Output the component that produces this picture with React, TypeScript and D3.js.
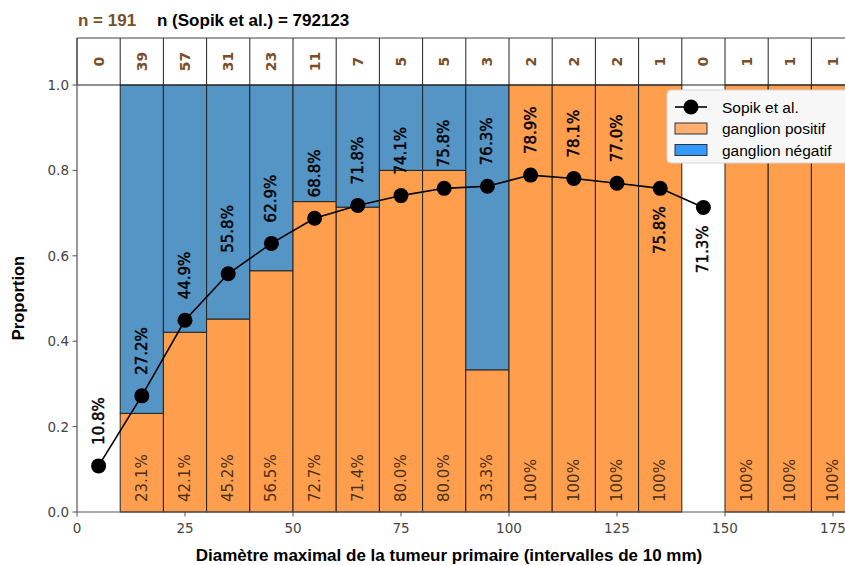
import React from "react";
import * as d3 from "d3";

const binStarts = [0, 10, 20, 30, 40, 50, 60, 70, 80, 90, 100, 110, 120, 130, 140, 150, 160, 170];
const counts = [0, 39, 57, 31, 23, 11, 7, 5, 5, 3, 2, 2, 2, 1, 0, 1, 1, 1];
const positive = [null, 23.1, 42.1, 45.2, 56.5, 72.7, 71.4, 80.0, 80.0, 33.3, 100, 100, 100, 100, null, 100, 100, 100];
const sopik = [10.8, 27.2, 44.9, 55.8, 62.9, 68.8, 71.8, 74.1, 75.8, 76.3, 78.9, 78.1, 77.0, 75.8, 71.3];
const sopikBelow = [false, false, false, false, false, false, false, false, false, false, false, false, false, true, true];
const xTicks = [0, 25, 50, 75, 100, 125, 150, 175];
const yTicks = [0, 0.2, 0.4, 0.6, 0.8, 1.0];

const W = 845;
const H = 565;
const BIN = 10;

const ORANGE = "#FF9F4E";
const BLUE = "#5495C5";
const BROWN = "#7a4e26";
const EDGE = "#222";
const DV = "DejaVu Sans, sans-serif";
const AR = "Liberation Sans, Arial, sans-serif";

export default function App() {
  const x = d3.scaleLinear().domain([0, 180]).range([77, 77 + 180 * 4.32]);
  const y = d3.scaleLinear().domain([0, 1.11]).range([512, 512 - 1.11 * 427]);
  const line = d3
    .line<number>()
    .x((_, i) => x(binStarts[i] + BIN / 2))
    .y((d) => y(d / 100));

  const y0 = y(0);
  const y1 = y(1);
  const yTop = y(1.11);

  return (
    <svg width={W} height={H} style={{ display: "block", position: "absolute", left: 0, top: 0 }}>
      <rect width={W} height={H} fill="#fff" />
      {/* bars */}
      {binStarts.map((b, i) => {
        const p = positive[i];
        if (p === null || counts[i] === 0) return null;
        const x0 = x(b);
        const w = x(b + BIN) - x(b);
        const yp = y(p / 100);
        return (
          <g key={"bar" + i}>
            <rect x={x0} y={yp} width={w} height={y0 - yp} fill={ORANGE} stroke={EDGE} strokeWidth={1} />
            {p < 100 && (
              <rect x={x0} y={y1} width={w} height={yp - y1} fill={BLUE} stroke={EDGE} strokeWidth={1} />
            )}
          </g>
        );
      })}
      {/* bar percent labels */}
      {binStarts.map((b, i) => {
        const p = positive[i];
        if (p === null) return null;
        const cx = x(b + BIN / 2);
        const ly = y0 - 10;
        const txt = p === 100 ? "100%" : p.toFixed(1) + "%";
        return (
          <text
            key={"pl" + i}
            transform={`translate(${cx},${ly}) rotate(-90)`}
            textAnchor="start"
            dominantBaseline="central"
            fontFamily={DV}
            fontSize={15}
            fill="#4b3015"
          >
            {txt}
          </text>
        );
      })}
      {/* header table */}
      <line x1={x(0)} x2={W} y1={yTop} y2={yTop} stroke="#444" strokeWidth={1} />
      <line x1={x(0)} x2={W} y1={y1} y2={y1} stroke={EDGE} strokeWidth={1.2} />
      {binStarts.map((b, i) => (
        <line key={"hv" + i} x1={x(b)} x2={x(b)} y1={yTop} y2={y1} stroke={EDGE} strokeWidth={1} />
      ))}
      {binStarts.map((b, i) => (
        <text
          key={"cnt" + i}
          transform={`translate(${x(b + BIN / 2)},${(yTop + y1) / 2}) rotate(-90)`}
          textAnchor="middle"
          dominantBaseline="central"
          fontFamily={DV}
          fontWeight="bold"
          fontSize={14}
          fill={BROWN}
        >
          {counts[i]}
        </text>
      ))}
      {/* Sopik line */}
      <path d={line(sopik) || ""} fill="none" stroke="#000" strokeWidth={1.6} />
      {sopik.map((v, i) => (
        <circle key={"pt" + i} cx={x(binStarts[i] + BIN / 2)} cy={y(v / 100)} r={7.5} fill="#000" />
      ))}
      {sopik.map((v, i) => {
        const cx = x(binStarts[i] + BIN / 2);
        const cy = y(v / 100);
        const below = sopikBelow[i];
        return (
          <text
            key={"sl" + i}
            transform={`translate(${cx},${below ? cy + 18 : cy - 21}) rotate(-90)`}
            textAnchor={below ? "end" : "start"}
            dominantBaseline="central"
            fontFamily={DV}
            fontSize={15}
            fill="#000"
            stroke="#000"
            strokeWidth={0.45}
          >
            {v.toFixed(1) + "%"}
          </text>
        );
      })}
      {/* axes */}
      <line x1={x(0)} x2={x(0)} y1={yTop} y2={y0} stroke="#555" strokeWidth={1.2} />
      <line x1={x(0)} x2={W} y1={y0} y2={y0} stroke="#555" strokeWidth={1.2} />
      {yTicks.map((t) => (
        <g key={"yt" + t}>
          <line x1={x(0) - 4.5} x2={x(0)} y1={y(t)} y2={y(t)} stroke="#555" strokeWidth={1} />
          <text
            x={x(0) - 8}
            y={y(t)}
            textAnchor="end"
            dominantBaseline="central"
            fontFamily={DV}
            fontSize={13.5}
            fill="#444"
          >
            {t.toFixed(1)}
          </text>
        </g>
      ))}
      {xTicks.map((t) => (
        <g key={"xt" + t}>
          <line x1={x(t)} x2={x(t)} y1={y0} y2={y0 + 4.5} stroke="#555" strokeWidth={1} />
          <text
            x={x(t)}
            y={y0 + 16}
            textAnchor="middle"
            dominantBaseline="central"
            fontFamily={DV}
            fontSize={13.5}
            fill="#444"
          >
            {t}
          </text>
        </g>
      ))}
      <text
        x={449}
        y={555}
        textAnchor="middle"
        dominantBaseline="central"
        fontFamily={AR}
        fontWeight="bold"
        fontSize={17}
        fill="#000"
      >
        Diamètre maximal de la tumeur primaire (intervalles de 10 mm)
      </text>
      <text
        transform={`translate(18,298) rotate(-90)`}
        textAnchor="middle"
        dominantBaseline="central"
        fontFamily={AR}
        fontWeight="bold"
        fontSize={16.5}
        fill="#000"
      >
        Proportion
      </text>
      {/* titles */}
      <text x={78} y={20} dominantBaseline="central" fontFamily={AR} fontWeight="bold" fontSize={17} fill={BROWN}>
        n = 191
      </text>
      <text x={157} y={20} dominantBaseline="central" fontFamily={AR} fontWeight="bold" fontSize={17} fill="#000">
        n (Sopik et al.) = 792123
      </text>
      {/* legend */}
      <g>
        <rect x={667} y={90} width={200} height={73} rx={4} fill="#f7f7f7" stroke="#d6d6d6" strokeWidth={1} />
        <line x1={675} x2={707} y1={107} y2={107} stroke="#000" strokeWidth={1.6} />
        <circle cx={691} cy={107} r={7.5} fill="#000" />
        <text x={722} y={107} dominantBaseline="central" fontFamily={AR} fontSize={15.5} fill="#000">
          Sopik et al.
        </text>
        <rect x={675} y={123} width={32} height={11} fill="#FFB070" stroke="#333" strokeWidth={1} />
        <text x={722} y={128.5} dominantBaseline="central" fontFamily={AR} fontSize={15.5} fill="#000">
          ganglion positif
        </text>
        <rect x={675} y={144.5} width={32} height={11} fill="#3399FF" stroke="#333" strokeWidth={1} />
        <text x={722} y={150} dominantBaseline="central" fontFamily={AR} fontSize={15.5} fill="#000">
          ganglion négatif
        </text>
      </g>
    </svg>
  );
}
